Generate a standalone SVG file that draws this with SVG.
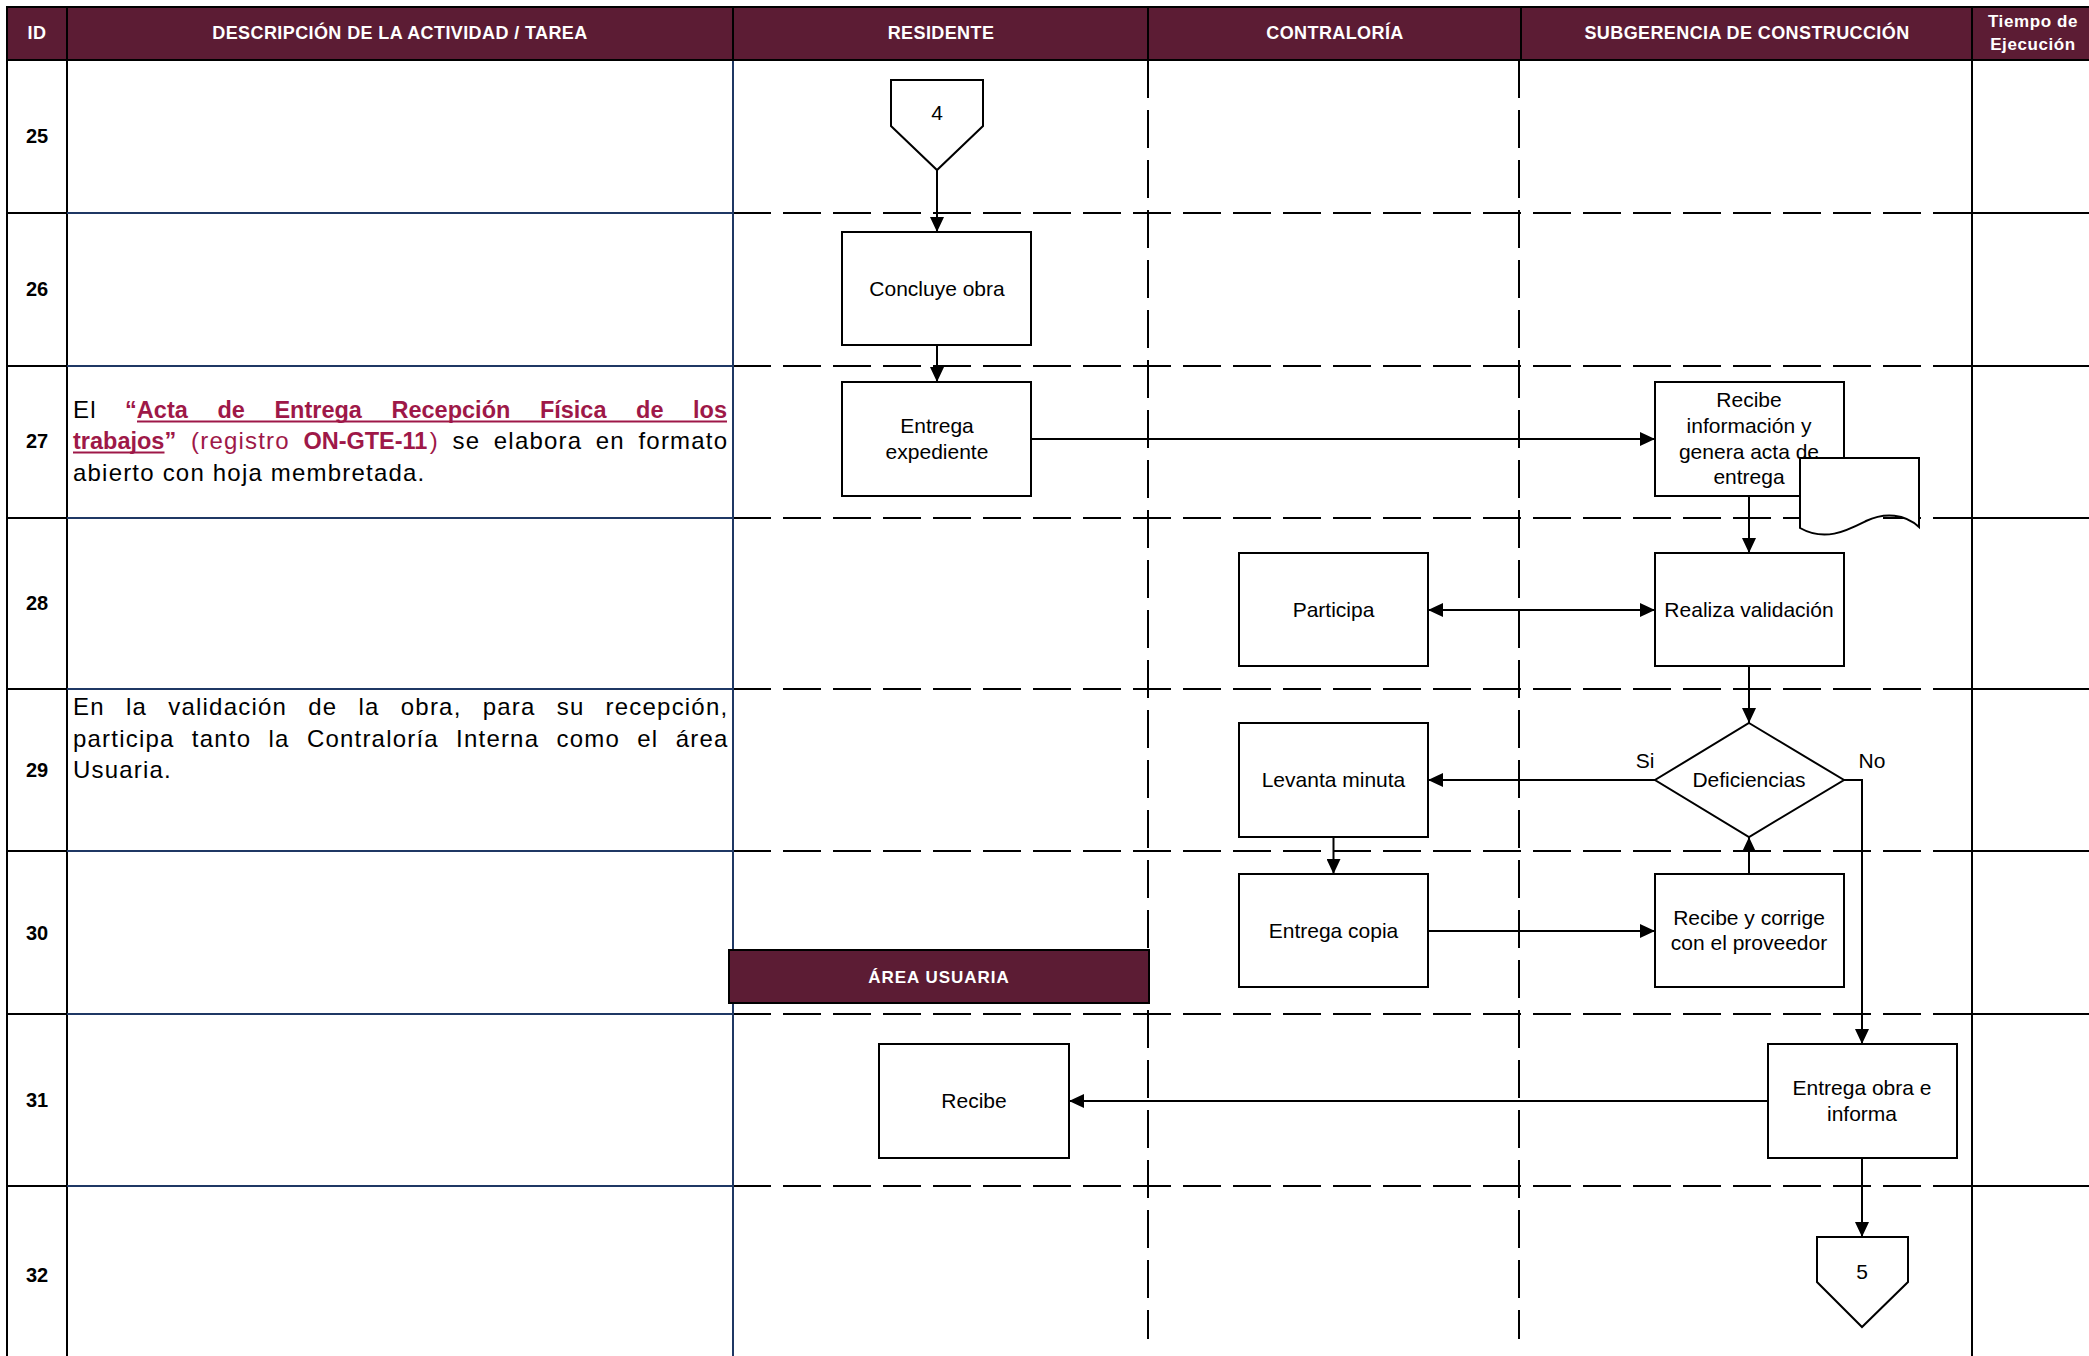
<svg xmlns="http://www.w3.org/2000/svg" width="2089" height="1356" viewBox="0 0 2089 1356">
<defs>
<marker id="arr" markerUnits="userSpaceOnUse" markerWidth="16" markerHeight="14" refX="15" refY="7" orient="auto-start-reverse">
<path d="M0,0 L15,7 L0,14 z" fill="#000"/>
</marker>
<style>
text{font-family:"Liberation Sans",Arial,sans-serif}
.hd{fill:#fff;font-weight:bold;font-size:18px;letter-spacing:0.4px;text-anchor:middle}
.id{font-weight:bold;font-size:20px;text-anchor:middle;fill:#000}
.bx{fill:#fff;stroke:#000;stroke-width:2}
.bt{font-size:21px;text-anchor:middle;fill:#000}
.ds{font-size:24px;letter-spacing:1.2px;fill:#000}
.mb{font-size:23.5px;font-weight:bold;fill:#9E1848}
.mr{font-size:24px;letter-spacing:1.2px;fill:#9E1848}
.dash{stroke:#000;stroke-width:2;stroke-dasharray:38 12;fill:none}
.nv{stroke:#1F3864;stroke-width:2;fill:none}
.bk{stroke:#000;stroke-width:2;fill:none}
.cn{stroke:#000;stroke-width:2;fill:none;marker-end:url(#arr)}
</style>
</defs>
<rect width="2089" height="1356" fill="#fff"/>

<g id="grid">
<line class="dash" x1="733" y1="213" x2="1972" y2="213"/>
<line class="dash" x1="733" y1="366" x2="1972" y2="366"/>
<line class="dash" x1="733" y1="518" x2="1972" y2="518"/>
<line class="dash" x1="733" y1="689" x2="1972" y2="689"/>
<line class="dash" x1="733" y1="851" x2="1972" y2="851"/>
<line class="dash" x1="733" y1="1014" x2="1972" y2="1014"/>
<line class="dash" x1="733" y1="1186" x2="1972" y2="1186"/>
<line class="dash" x1="1148" y1="60" x2="1148" y2="1339"/>
<line class="dash" x1="1519" y1="60" x2="1519" y2="1339"/>
<line class="bk" x1="7" y1="60" x2="7" y2="1356"/>
<line class="bk" x1="67" y1="60" x2="67" y2="1356"/>
<line class="nv" x1="733" y1="60" x2="733" y2="1356"/>
<line class="bk" x1="1972" y1="60" x2="1972" y2="1356"/>
<path class="bk" d="M7,213H67M7,366H67M7,518H67M7,689H67M7,851H67M7,1014H67M7,1186H67"/>
<path class="nv" d="M67,213H733M67,366H733M67,518H733M67,689H733M67,851H733M67,1014H733M67,1186H733"/>
<path class="bk" d="M1972,213H2089M1972,366H2089M1972,518H2089M1972,689H2089M1972,851H2089M1972,1014H2089M1972,1186H2089"/>
</g>

<g id="header">
<rect x="7" y="7" width="2090" height="53" fill="#5C1C34" stroke="#000" stroke-width="2"/>
<path class="bk" d="M67,7V60M733,7V60M1148,7V60M1521,7V60M1972,7V60"/>
<text class="hd" x="37" y="39">ID</text>
<text class="hd" x="400" y="39">DESCRIPCIÓN DE LA ACTIVIDAD / TAREA</text>
<text class="hd" x="941" y="39">RESIDENTE</text>
<text class="hd" x="1335" y="39">CONTRALORÍA</text>
<text class="hd" x="1747" y="39">SUBGERENCIA DE CONSTRUCCIÓN</text>
<text class="hd" x="2033" y="27" style="font-size:17px;letter-spacing:0.6px">Tiempo de</text>
<text class="hd" x="2033" y="50" style="font-size:17px;letter-spacing:0.6px">Ejecución</text>
</g>

<g id="ids">
<text class="id" x="37" y="143">25</text>
<text class="id" x="37" y="296">26</text>
<text class="id" x="37" y="448">27</text>
<text class="id" x="37" y="610">28</text>
<text class="id" x="37" y="777">29</text>
<text class="id" x="37" y="940">30</text>
<text class="id" x="37" y="1107">31</text>
<text class="id" x="37" y="1282">32</text>
</g>

<g id="desc27">
<text class="ds" x="73" y="418">El</text>
<text class="mb" x="125.1" y="418">“Acta</text>
<text class="mb" x="217.4" y="418">de</text>
<text class="mb" x="274.4" y="418">Entrega</text>
<text class="mb" x="391.5" y="418">Recepción</text>
<text class="mb" x="539.9" y="418">Física</text>
<text class="mb" x="636.1" y="418">de</text>
<text class="mb" x="693.1" y="418">los</text>
<line x1="137" y1="421.5" x2="727" y2="421.5" stroke="#9E1848" stroke-width="2"/>
<text class="mb" x="73" y="449">trabajos”</text>
<line x1="73" y1="452.5" x2="164.5" y2="452.5" stroke="#9E1848" stroke-width="2"/>
<text class="mr" x="191" y="449">(registro</text>
<text class="mb" x="303.4" y="449">ON-GTE-11</text>
<text class="mr" x="429.7" y="449">)</text>
<text class="ds" x="452.5" y="449">se</text>
<text class="ds" x="493.8" y="449">elabora</text>
<text class="ds" x="595.8" y="449">en</text>
<text class="ds" x="638.5" y="449">formato</text>
<text class="ds" x="73" y="481">abierto con hoja membretada.</text>
</g>

<g id="desc29">
<text class="ds" x="73" y="715">En</text>
<text class="ds" x="126" y="715">la</text>
<text class="ds" x="168.3" y="715">validación</text>
<text class="ds" x="308.2" y="715">de</text>
<text class="ds" x="358.5" y="715">la</text>
<text class="ds" x="400.8" y="715">obra,</text>
<text class="ds" x="482.7" y="715">para</text>
<text class="ds" x="556.7" y="715">su</text>
<text class="ds" x="605.6" y="715">recepción,</text>
<text class="ds" x="73" y="747">participa</text>
<text class="ds" x="191.8" y="747">tanto</text>
<text class="ds" x="268.5" y="747">la</text>
<text class="ds" x="306.9" y="747">Contraloría</text>
<text class="ds" x="456.1" y="747">Interna</text>
<text class="ds" x="556.5" y="747">como</text>
<text class="ds" x="637.3" y="747">el</text>
<text class="ds" x="675.7" y="747">área</text>
<text class="ds" x="73" y="778">Usuaria.</text>
</g>

<g id="connectors">
<path class="cn" d="M937,170 V232"/>
<path class="cn" d="M937,345 V382"/>
<path class="cn" d="M1031,439 H1655"/>
<path class="cn" d="M1749,496 V553"/>
<path class="cn" d="M1428,610 H1655" marker-start="url(#arr)"/>
<path class="cn" d="M1749,666 V723"/>
<path class="cn" d="M1655,780 H1428"/>
<path class="cn" d="M1333.5,837 V874"/>
<path class="cn" d="M1428,931 H1655"/>
<path class="cn" d="M1749,874 V837"/>
<path class="cn" d="M1844,780 H1862 V1044"/>
<path class="cn" d="M1768,1101 H1069"/>
<path class="cn" d="M1862,1158 V1237"/>
</g>

<g id="n-off4">
<path class="bx" d="M891,80 H983 V126 L937,170 L891,126 Z"/>
<text class="bt" x="937" y="120">4</text>
</g>
<g id="n-concluye">
<rect class="bx" x="842" y="232" width="189" height="113"/>
<text class="bt" x="937" y="296">Concluye obra</text>
</g>
<g id="n-entrega-exp">
<rect class="bx" x="842" y="382" width="189" height="114"/>
<text class="bt" x="937" y="433">Entrega</text>
<text class="bt" x="937" y="459">expediente</text>
</g>
<g id="n-recibe-info">
<rect class="bx" x="1655" y="382" width="189" height="114"/>
<text class="bt" x="1749" y="407">Recibe</text>
<text class="bt" x="1749" y="433">información y</text>
<text class="bt" x="1749" y="459">genera acta de</text>
<text class="bt" x="1749" y="484">entrega</text>
</g>
<g id="n-documento">
<path class="bx" d="M1800,458 H1919 V527 C1905,514 1885,512 1866,521 C1846,531 1825,542 1800,528 Z"/>
</g>
<g id="n-participa">
<rect class="bx" x="1239" y="553" width="189" height="113"/>
<text class="bt" x="1333.5" y="617">Participa</text>
</g>
<g id="n-realiza">
<rect class="bx" x="1655" y="553" width="189" height="113"/>
<text class="bt" x="1749" y="617">Realiza validación</text>
</g>
<g id="n-deficiencias">
<path class="bx" d="M1749,723 L1844,780 L1749,837 L1655,780 Z"/>
<text class="bt" x="1749" y="787">Deficiencias</text>
<text class="bt" x="1645" y="768">Si</text>
<text class="bt" x="1872" y="768">No</text>
</g>
<g id="n-levanta">
<rect class="bx" x="1239" y="723" width="189" height="114"/>
<text class="bt" x="1333.5" y="787">Levanta minuta</text>
</g>
<g id="n-entrega-copia">
<rect class="bx" x="1239" y="874" width="189" height="113"/>
<text class="bt" x="1333.5" y="938">Entrega copia</text>
</g>
<g id="n-recibe-corrige">
<rect class="bx" x="1655" y="874" width="189" height="113"/>
<text class="bt" x="1749" y="925">Recibe y corrige</text>
<text class="bt" x="1749" y="950">con el proveedor</text>
</g>
<g id="n-area-usuaria">
<rect x="729" y="950" width="420" height="53" fill="#5C1C34" stroke="#000" stroke-width="2"/>
<text class="hd" x="939" y="983" style="font-size:17px;letter-spacing:1px">ÁREA USUARIA</text>
</g>
<g id="n-recibe">
<rect class="bx" x="879" y="1044" width="190" height="114"/>
<text class="bt" x="974" y="1108">Recibe</text>
</g>
<g id="n-entrega-obra">
<rect class="bx" x="1768" y="1044" width="189" height="114"/>
<text class="bt" x="1862" y="1095">Entrega obra e</text>
<text class="bt" x="1862" y="1121">informa</text>
</g>
<g id="n-off5">
<path class="bx" d="M1817,1237 H1908 V1282 L1862,1327 L1817,1282 Z"/>
<text class="bt" x="1862" y="1279">5</text>
</g>
</svg>
